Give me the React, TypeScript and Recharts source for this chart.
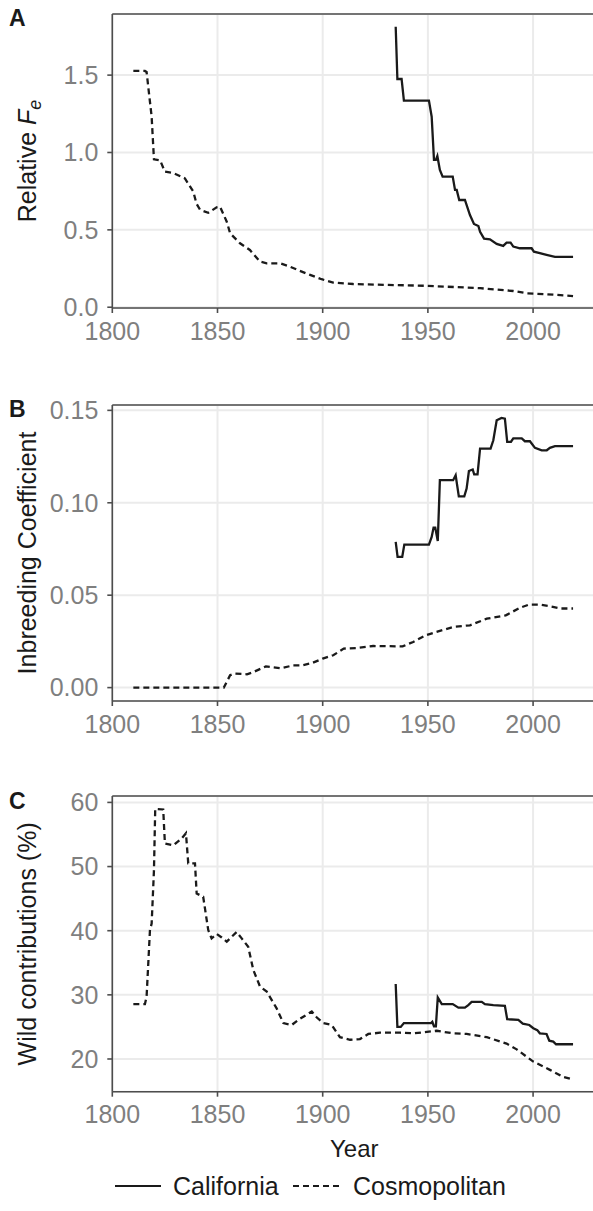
import React from 'react';
import { LineChart, Line, XAxis, YAxis, CartesianGrid, ReferenceLine, Legend, Label } from 'recharts';

const FONT = '"Liberation Sans", Arial, Helvetica, sans-serif';

// ---------- shared axis data ----------
const xTicks = [1800, 1850, 1900, 1950, 2000];
const xDomain = [1800, 2030];
const seriesNames = ['California', 'Cosmopolitan'];

// ---------- Panel A : Relative Fe ----------
const feCalYears = [1934.7, 1935.5, 1937.5, 1938.6, 1950.5, 1951.8, 1952.9, 1953.8, 1954.5, 1955.7, 1957, 1961.8, 1962.9, 1963.7, 1964.9, 1967.6, 1970, 1971.9, 1974, 1974.8, 1976.7, 1979.5, 1982.7, 1985.8, 1987.4, 1989.3, 1990.6, 1993.7, 1999.3, 2000.4, 2003.2, 2006.4, 2010.4, 2019];
const feCalValues = [1.813, 1.475, 1.475, 1.335, 1.335, 1.231, 0.952, 0.952, 0.977, 0.887, 0.844, 0.844, 0.758, 0.758, 0.693, 0.693, 0.596, 0.538, 0.525, 0.488, 0.443, 0.439, 0.409, 0.396, 0.417, 0.417, 0.392, 0.381, 0.381, 0.359, 0.349, 0.338, 0.325, 0.325];
const feCosYears = [1810, 1815.5, 1816.3, 1818.7, 1819.8, 1822.7, 1825, 1829, 1834.5, 1838.5, 1840, 1841.7, 1845.6, 1849.6, 1851.2, 1854.4, 1856, 1860.7, 1865.4, 1870.2, 1873.4, 1879.7, 1884.5, 1889, 1894, 1899.5, 1905, 1914.5, 1950, 1974.8, 1990.6, 1997, 2006.5, 2019];
const feCosValues = [1.527, 1.527, 1.52, 1.231, 0.956, 0.95, 0.876, 0.867, 0.833, 0.747, 0.67, 0.63, 0.61, 0.646, 0.65, 0.553, 0.478, 0.413, 0.37, 0.295, 0.284, 0.284, 0.262, 0.236, 0.209, 0.181, 0.159, 0.15, 0.138, 0.123, 0.105, 0.09, 0.084, 0.072];
const feTicks = [0, 0.5, 1.0, 1.5];
const feDomain = [-0.005, 1.895];

// ---------- Panel B : Inbreeding coefficient ----------
const ibCalYears = [1934.7, 1935.6, 1937.8, 1938.8, 1950.5, 1951.8, 1952.7, 1953.5, 1954.7, 1955.7, 1962, 1963.2, 1964.7, 1967.3, 1968.4, 1969.5, 1971.3, 1972, 1973.6, 1974.8, 1979.8, 1981.1, 1982.7, 1985, 1986.6, 1987.7, 1989.5, 1990.6, 1994.6, 1996.1, 1998.5, 2000.9, 2004.1, 2006.5, 2008, 2010.4, 2019];
const ibCalValues = [0.0788, 0.0707, 0.0707, 0.0774, 0.0774, 0.0815, 0.0866, 0.0866, 0.0793, 0.1122, 0.1122, 0.1149, 0.1035, 0.1035, 0.1077, 0.1172, 0.118, 0.1154, 0.1154, 0.1293, 0.1293, 0.1338, 0.1446, 0.1459, 0.1455, 0.133, 0.133, 0.1348, 0.1348, 0.1333, 0.1333, 0.1297, 0.1284, 0.1284, 0.1297, 0.1306, 0.1306];
const ibCosYears = [1810, 1853, 1856, 1858, 1864, 1867, 1873, 1880, 1886, 1890, 1895, 1900, 1905, 1910, 1916, 1924, 1938, 1943, 1949, 1954, 1962, 1970, 1978, 1987, 1994, 1998, 2003, 2008, 2013, 2019];
const ibCosValues = [0, 0, 0.0067, 0.0076, 0.0072, 0.0084, 0.0115, 0.0105, 0.012, 0.012, 0.0133, 0.0157, 0.0175, 0.0211, 0.0214, 0.0225, 0.0223, 0.0247, 0.0283, 0.0301, 0.0328, 0.0337, 0.0373, 0.0391, 0.0433, 0.0449, 0.0449, 0.044, 0.0428, 0.0428];
const ibTicks = [0, 0.05, 0.1, 0.15];
const ibDomain = [-0.00725, 0.1529];

// ---------- Panel C : Wild contributions ----------
const wcCalYears = [1934.7, 1935.5, 1937.1, 1938.6, 1951.5, 1952.1, 1952.9, 1953.8, 1954.7, 1956.6, 1961.8, 1964.5, 1967.6, 1969.2, 1970.8, 1975.6, 1977.1, 1981.1, 1986.6, 1987.7, 1993, 1995.1, 1998.2, 2000.1, 2002, 2003.2, 2006.4, 2007.7, 2009.6, 2010.9, 2019];
const wcCalValues = [31.7, 25.0, 25.0, 25.6, 25.6, 25.8, 25.1, 25.1, 29.6, 28.55, 28.55, 28.0, 28.0, 28.4, 28.9, 28.9, 28.55, 28.4, 28.3, 26.2, 26.1, 25.5, 25.3, 24.8, 24.5, 24.0, 23.9, 22.85, 22.7, 22.3, 22.3];
const wcCosYears = [1810, 1815.5, 1816.3, 1817.9, 1818.7, 1819.8, 1820.4, 1824.2, 1825, 1829, 1833, 1835, 1836.1, 1839.3, 1840.1, 1843.2, 1845.6, 1847.2, 1849.6, 1852, 1854.4, 1859.1, 1861.5, 1864.6, 1867, 1870.2, 1873.4, 1878.1, 1881.3, 1885.3, 1888.4, 1894.8, 1897.1, 1900.3, 1904.3, 1908.2, 1913, 1917.7, 1921.7, 1927.2, 1936.7, 1943, 1947.8, 1954.2, 1962, 1968.4, 1978, 1987.4, 1992.2, 2000.1, 2008, 2014.4, 2019];
const wcCosValues = [28.55, 28.55, 29.7, 40.1, 41.1, 49.4, 59.0, 58.9, 53.6, 53.3, 54.4, 55.2, 50.5, 50.5, 45.8, 45.3, 40.1, 38.8, 39.5, 38.95, 38.3, 39.8, 38.8, 37.5, 33.9, 31.3, 30.5, 27.9, 25.6, 25.3, 26.1, 27.4, 26.5, 25.6, 25.3, 23.4, 23.0, 23.1, 23.9, 24.1, 24.1, 24.0, 24.15, 24.4, 24.0, 23.9, 23.4, 22.4, 21.5, 19.6, 18.3, 17.2, 16.8];
const wcTicks = [20, 30, 40, 50, 60];
const wcDomain = [14.9, 61.0];

const toRows = (years: number[], values: number[]) => years.map((year, i) => ({ year, v: values[i] }));

const AXIS = '#4D4D4D';
const INK = '#1A1A1A';
const TICK_GREY = '#7F7F7F';
const DASH = '6 4';

const renderLegend = (props: any) => {
  const items = (props && props.payload && props.payload.length ? props.payload.map((p: any) => p.value) : seriesNames);
  const keyX = [115, 293];
  const textX = [173, 353];
  return (
    <svg width={600} height={45} style={{ display: 'block' }}>
      {items.map((name: string, i: number) => (
        <g key={name}>
          <line x1={keyX[i]} x2={keyX[i] + 46} y1={20} y2={20} stroke={INK} strokeWidth={2.2}
            strokeDasharray={name === 'Cosmopolitan' ? DASH : undefined} />
          <text x={textX[i]} y={29} fontSize={25} fontFamily={FONT} fill={INK}>{name}</text>
        </g>
      ))}
    </svg>
  );
};

function Panel(p: any) {
  const { top, chartHeight, xAxisHeight, yDomain, yTicks, fmt, cal, cosmo, yTitle, legend, xTitle } = p;
  return (
    <div style={{ position: 'absolute', left: 0, top }}>
      <LineChart width={600} height={chartHeight} margin={{ top: 14, right: 3.8, bottom: 0, left: 0 }}>
        <CartesianGrid stroke="#EBEBEB" strokeWidth={2} />
        <XAxis type="number" dataKey="year" domain={xDomain} ticks={xTicks} allowDataOverflow interval={0}
          height={xAxisHeight} tickSize={5} tickMargin={9}
          axisLine={{ stroke: AXIS, strokeWidth: 1.6 }} tickLine={{ stroke: AXIS, strokeWidth: 1.6 }}
          tick={{ fill: TICK_GREY, fontSize: 25, fontFamily: FONT }}>
          {xTitle ? (
            <Label content={(lp: any) => {
              const vb = lp.viewBox || {};
              return <text x={vb.x + vb.width / 2} y={vb.y + 65} textAnchor="middle" fontSize={24} fontFamily={FONT} fill={INK}>Year</text>;
            }} />
          ) : null}
        </XAxis>
        <YAxis type="number" domain={yDomain} ticks={yTicks} allowDataOverflow interval={0} width={112.3}
          tickSize={5} tickMargin={9} tickFormatter={fmt}
          axisLine={{ stroke: AXIS, strokeWidth: 1.6 }} tickLine={{ stroke: AXIS, strokeWidth: 1.6 }}
          tick={{ fill: TICK_GREY, fontSize: 25, fontFamily: FONT }}>
          <Label content={(lp: any) => {
            const vb = lp.viewBox || {};
            const cy = vb.y + vb.height / 2;
            return (
              <text x={36} y={cy} transform={`rotate(-90 36 ${cy})`} textAnchor="middle" fontSize={25} fontFamily={FONT} fill={INK}>
                {yTitle}
              </text>
            );
          }} />
        </YAxis>
        <ReferenceLine y={yDomain[1]} stroke={AXIS} strokeWidth={1.6} />
        <Line data={cal} dataKey="v" name="California" type="linear" dot={false} activeDot={false}
          stroke={INK} strokeWidth={2.3} isAnimationActive={false} />
        <Line data={cosmo} dataKey="v" name="Cosmopolitan" type="linear" dot={false} activeDot={false}
          stroke={INK} strokeWidth={2.3} strokeDasharray={DASH} isAnimationActive={false} />
        {legend ? <Legend verticalAlign="bottom" align="left" content={renderLegend} wrapperStyle={{ height: 45, left: 0, width: 600 }} /> : null}
      </LineChart>
    </div>
  );
}

export default function App() {
  const feTitle = [
    'Relative ',
    <tspan key="F" fontStyle="italic">F</tspan>,
    <tspan key="e" fontStyle="italic" fontSize={18} dy={5}>e</tspan>,
  ];
  return (
    <div style={{ position: 'absolute', left: 0, top: 0, width: 593, height: 1211, overflow: 'hidden', background: '#fff', fontFamily: FONT }}>
      <Panel top={0} chartHeight={348} xAxisHeight={40} yDomain={feDomain} yTicks={feTicks}
        fmt={(v: number) => v.toFixed(1)} cal={toRows(feCalYears, feCalValues)} cosmo={toRows(feCosYears, feCosValues)}
        yTitle={feTitle} />
      <Panel top={390.7} chartHeight={350} xAxisHeight={40} yDomain={ibDomain} yTicks={ibTicks}
        fmt={(v: number) => v.toFixed(2)} cal={toRows(ibCalYears, ibCalValues)} cosmo={toRows(ibCosYears, ibCosValues)}
        yTitle="Inbreeding Coefficient" />
      <Panel top={782} chartHeight={429} xAxisHeight={74.3} yDomain={wcDomain} yTicks={wcTicks}
        fmt={(v: number) => String(v)} cal={toRows(wcCalYears, wcCalValues)} cosmo={toRows(wcCosYears, wcCosValues)}
        yTitle="Wild contributions (%)" legend xTitle />
      <svg width={600} height={1211} style={{ position: 'absolute', left: 0, top: 0, pointerEvents: 'none' }}>
        <text x={9} y={26} fontSize={23} fontWeight="bold" fontFamily={FONT} fill={INK}>A</text>
        <text x={9} y={417} fontSize={23} fontWeight="bold" fontFamily={FONT} fill={INK}>B</text>
        <text x={9} y={808.5} fontSize={23} fontWeight="bold" fontFamily={FONT} fill={INK}>C</text>
      </svg>
    </div>
  );
}
